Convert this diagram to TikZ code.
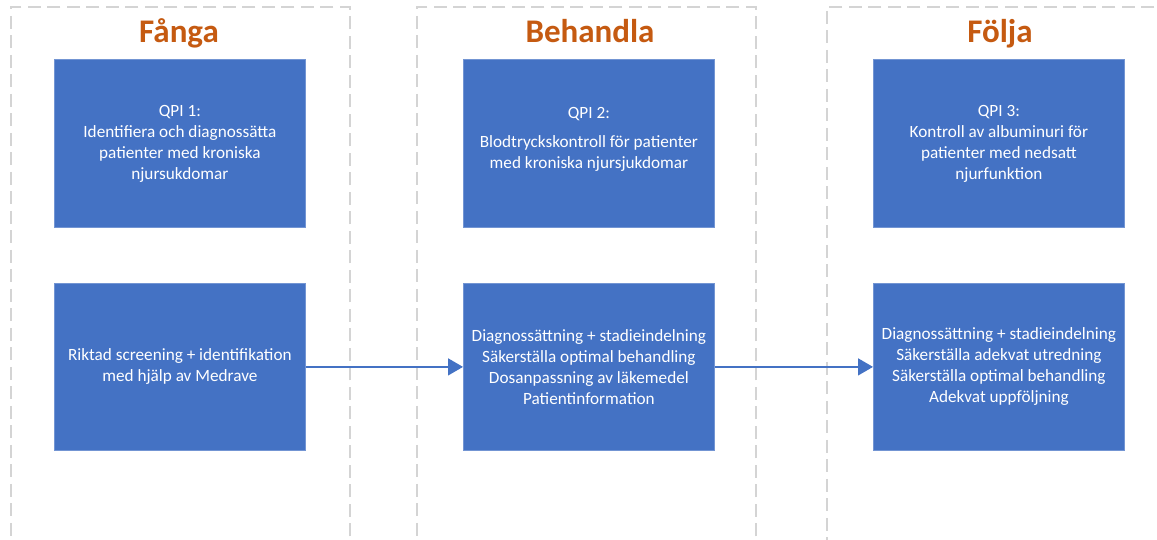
\documentclass[tikz,border=0pt]{standalone}
\usepackage{fontspec}
\setmainfont{Carlito}
\usetikzlibrary{arrows.meta}
\definecolor{accblue}{HTML}{4472C4}
\definecolor{accorange}{HTML}{C55A11}
\definecolor{dashgrey}{HTML}{D4D4D4}
\begin{document}
\begin{tikzpicture}[x=1pt,y=-1pt,
  column/.style={draw=dashgrey, line width=1.5pt, dash pattern=on 13pt off 6.5pt,
    anchor=north west, inner sep=0pt, minimum height=600pt},
  qbox/.style={fill=accblue, draw=accblue!75!white, line width=0.8pt, text=white,
    align=center, font=\fontsize{17.2}{21}\selectfont, inner sep=0pt,
    minimum width=251pt, anchor=north west},
  head/.style={text=accorange, font=\fontsize{33}{38}\selectfont\bfseries, anchor=base},
  flow/.style={draw=accblue, line width=1.5pt, -{Triangle[length=15pt,width=17pt]}}
]
\useasboundingbox (0,0) rectangle (1157,539);
\clip (0,0) rectangle (1157,539);
\fill[white] (0,0) rectangle (1157,539);
% columns
\node[column, minimum width=339pt] (colA) at (10,6) {};
\node[column, minimum width=339pt] (colB) at (416,6) {};
\node[column, minimum width=400pt] (colC) at (826,6) {};
% headings
\node[head] (hA) at (179,42) {Fånga};
\node[head] (hB) at (590,42) {Behandla};
\node[head] (hC) at (1000,42) {Följa};
% top boxes
\node[qbox, minimum height=168pt] (A1) at (54,59)
  {QPI 1:\\Identifiera och diagnossätta\\patienter med kroniska\\njursukdomar};
\node[qbox, minimum height=168pt] (B1) at (463,59)
  {QPI 2:\\[8pt]Blodtryckskontroll för patienter\\med kroniska njursjukdomar\\[-10pt]\mbox{}};
\node[qbox, minimum height=168pt] (C1) at (873,59)
  {QPI 3:\\Kontroll av albuminuri för\\patienter med nedsatt\\njurfunktion};
% bottom boxes
\node[qbox, minimum height=167pt] (A2) at (54,283)
  {Riktad screening + identifikation\\med hjälp av Medrave};
\node[qbox, minimum height=167pt] (B2) at (463,283)
  {Diagnossättning + stadieindelning\\Säkerställa optimal behandling\\Dosanpassning av läkemedel\\Patientinformation};
\node[qbox, minimum height=167pt] (C2) at (873,283)
  {Diagnossättning + stadieindelning\\Säkerställa adekvat utredning\\Säkerställa optimal behandling\\Adekvat uppföljning};
% connectors
\draw[flow] (A2.east) -- (B2.west);
\draw[flow] (B2.east) -- (C2.west);
\end{tikzpicture}
\end{document}
